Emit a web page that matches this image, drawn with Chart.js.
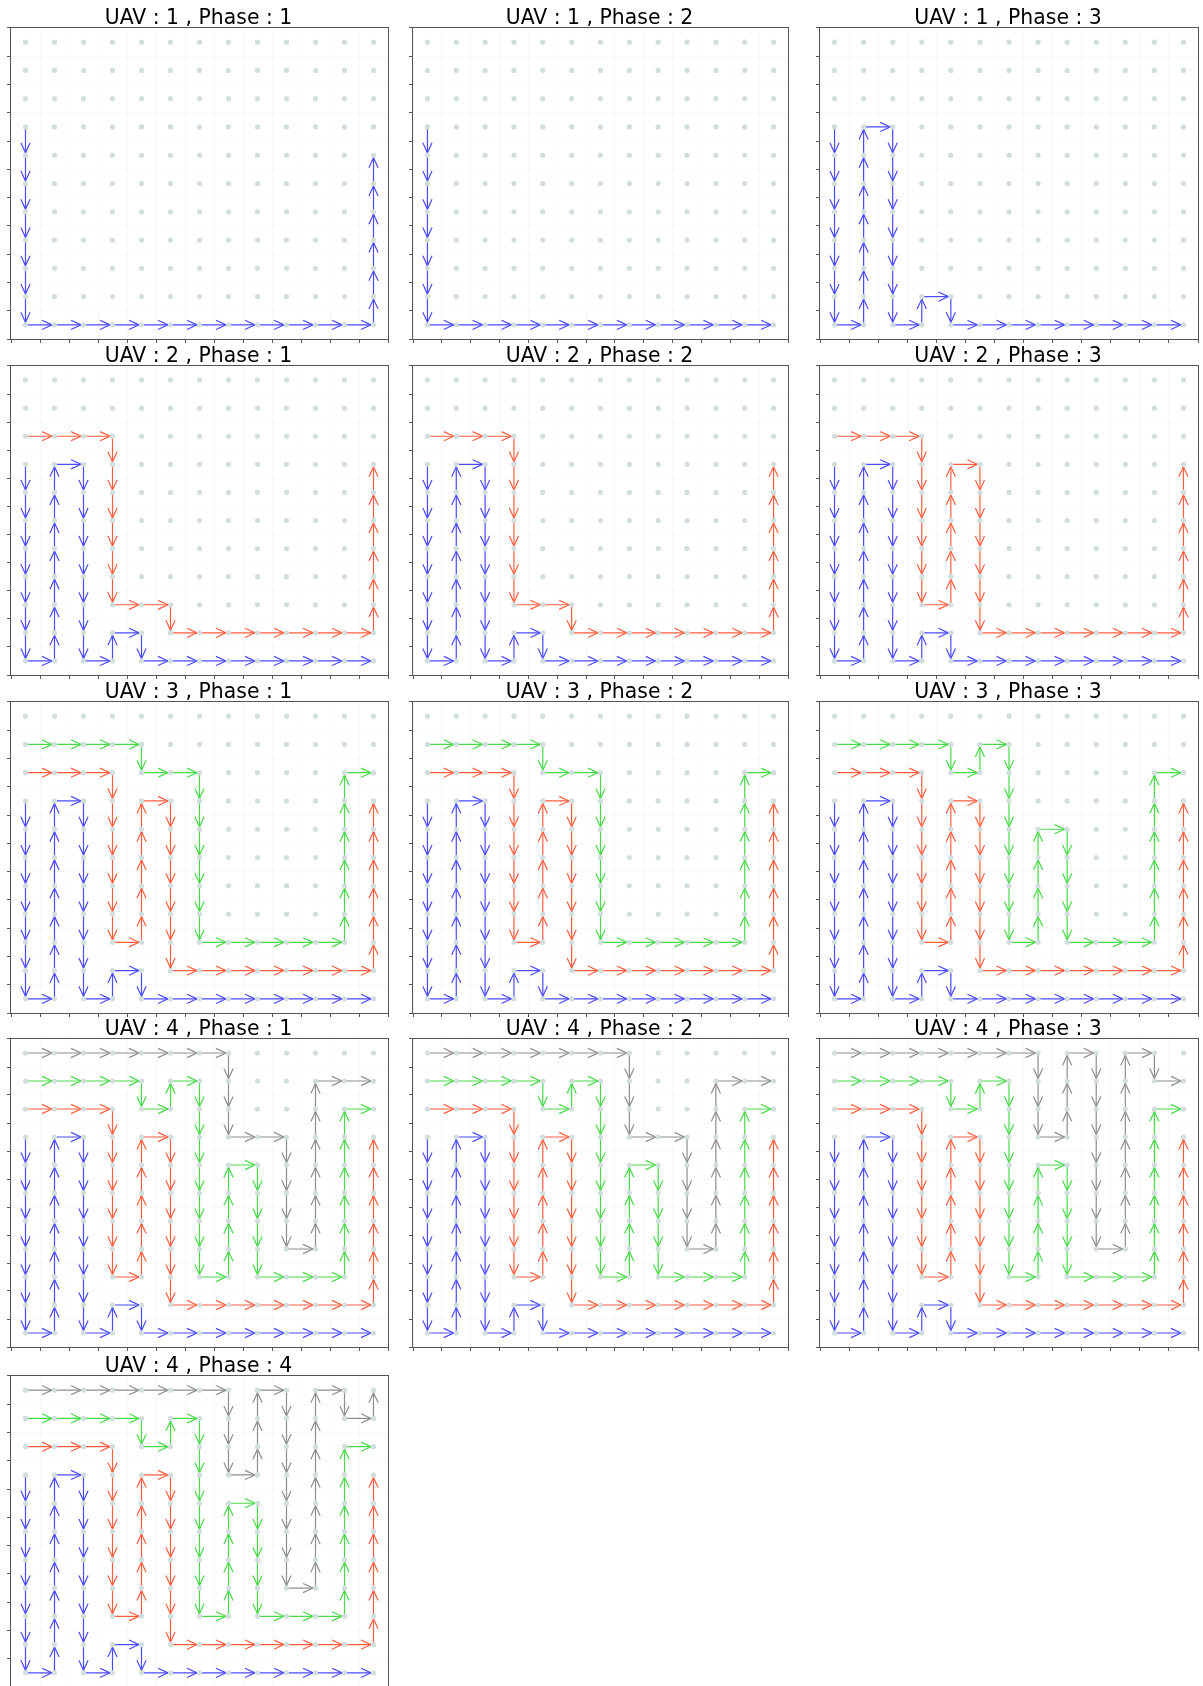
<!DOCTYPE html>
<html>
<head>
<meta charset="utf-8">
<script src="https://cdn.jsdelivr.net/npm/chart.js@4.4.0/dist/chart.umd.min.js"></script>
<style>
  html, body { margin: 0; padding: 0; background: #fff; overflow: hidden; }
  body { width: 1203px; height: 1686px; position: relative; }
  .panel { position: absolute; }
</style>
</head>
<body>
<script>

// grid of cells the UAVs can visit
const columns = [0, 1, 2, 3, 4, 5, 6, 7, 8, 9, 10, 11, 12];
const rows = [0, 1, 2, 3, 4, 5, 6, 7, 8, 9, 10];
const xTicks = [-0.5, 0.5, 1.5, 2.5, 3.5, 4.5, 5.5, 6.5, 7.5, 8.5, 9.5, 10.5, 11.5, 12.5];
const yTicks = [-0.5, 0.5, 1.5, 2.5, 3.5, 4.5, 5.5, 6.5, 7.5, 8.5, 9.5, 10.5];

// paths, one cell per step
const blueP1 = [[0,7],[0,6],[0,5],[0,4],[0,3],[0,2],[0,1],[0,0],[1,0],[2,0],[3,0],[4,0],[5,0],[6,0],[7,0],[8,0],[9,0],[10,0],[11,0],[12,0],[12,1],[12,2],[12,3],[12,4],[12,5],[12,6]];
const blueP2 = [[0,7],[0,6],[0,5],[0,4],[0,3],[0,2],[0,1],[0,0],[1,0],[2,0],[3,0],[4,0],[5,0],[6,0],[7,0],[8,0],[9,0],[10,0],[11,0],[12,0]];
const blueP3 = [[0,7],[0,6],[0,5],[0,4],[0,3],[0,2],[0,1],[0,0],[1,0],[1,1],[1,2],[1,3],[1,4],[1,5],[1,6],[1,7],[2,7],[2,6],[2,5],[2,4],[2,3],[2,2],[2,1],[2,0],[3,0],[3,1],[4,1],[4,0],[5,0],[6,0],[7,0],[8,0],[9,0],[10,0],[11,0],[12,0]];

const redP1 = [[0,8],[1,8],[2,8],[3,8],[3,7],[3,6],[3,5],[3,4],[3,3],[3,2],[4,2],[5,2],[5,1],[6,1],[7,1],[8,1],[9,1],[10,1],[11,1],[12,1],[12,2],[12,3],[12,4],[12,5],[12,6],[12,7]];
const redP3 = [[0,8],[1,8],[2,8],[3,8],[3,7],[3,6],[3,5],[3,4],[3,3],[3,2],[4,2],[4,3],[4,4],[4,5],[4,6],[4,7],[5,7],[5,6],[5,5],[5,4],[5,3],[5,2],[5,1],[6,1],[7,1],[8,1],[9,1],[10,1],[11,1],[12,1],[12,2],[12,3],[12,4],[12,5],[12,6],[12,7]];

const greenP1 = [[0,9],[1,9],[2,9],[3,9],[4,9],[4,8],[5,8],[6,8],[6,7],[6,6],[6,5],[6,4],[6,3],[6,2],[7,2],[8,2],[9,2],[10,2],[11,2],[11,3],[11,4],[11,5],[11,6],[11,7],[11,8],[12,8]];
const greenP3 = [[0,9],[1,9],[2,9],[3,9],[4,9],[4,8],[5,8],[5,9],[6,9],[6,8],[6,7],[6,6],[6,5],[6,4],[6,3],[6,2],[7,2],[7,3],[7,4],[7,5],[7,6],[8,6],[8,5],[8,4],[8,3],[8,2],[9,2],[10,2],[11,2],[11,3],[11,4],[11,5],[11,6],[11,7],[11,8],[12,8]];

const grayP1 = [[0,10],[1,10],[2,10],[3,10],[4,10],[5,10],[6,10],[7,10],[7,9],[7,8],[7,7],[8,7],[9,7],[9,6],[9,5],[9,4],[9,3],[10,3],[10,4],[10,5],[10,6],[10,7],[10,8],[10,9],[11,9],[12,9]];
const grayP3 = [[0,10],[1,10],[2,10],[3,10],[4,10],[5,10],[6,10],[7,10],[7,9],[7,8],[7,7],[8,7],[8,8],[8,9],[8,10],[9,10],[9,9],[9,8],[9,7],[9,6],[9,5],[9,4],[9,3],[10,3],[10,4],[10,5],[10,6],[10,7],[10,8],[10,9],[10,10],[11,10],[11,9],[12,9]];
const grayP4 = [[0,10],[1,10],[2,10],[3,10],[4,10],[5,10],[6,10],[7,10],[7,9],[7,8],[7,7],[8,7],[8,8],[8,9],[8,10],[9,10],[9,9],[9,8],[9,7],[9,6],[9,5],[9,4],[9,3],[10,3],[10,4],[10,5],[10,6],[10,7],[10,8],[10,9],[10,10],[11,10],[11,9],[12,9],[12,10]];

const panelTitles = [
  'UAV : 1 , Phase : 1', 'UAV : 1 , Phase : 2', 'UAV : 1 , Phase : 3',
  'UAV : 2 , Phase : 1', 'UAV : 2 , Phase : 2', 'UAV : 2 , Phase : 3',
  'UAV : 3 , Phase : 1', 'UAV : 3 , Phase : 2', 'UAV : 3 , Phase : 3',
  'UAV : 4 , Phase : 1', 'UAV : 4 , Phase : 2', 'UAV : 4 , Phase : 3',
  'UAV : 4 , Phase : 4'
];

// which paths show up in each panel (blue, red, green, gray)
const panelPaths = [
  [blueP1], [blueP2], [blueP3],
  [blueP3, redP1], [blueP3, redP1], [blueP3, redP3],
  [blueP3, redP3, greenP1], [blueP3, redP3, greenP1], [blueP3, redP3, greenP3],
  [blueP3, redP3, greenP3, grayP1], [blueP3, redP3, greenP3, grayP1], [blueP3, redP3, greenP3, grayP3],
  [blueP3, redP3, greenP3, grayP4]
];

const pathColors = ['#4b4bff', '#ff5e3e', '#48da48', '#8e8e8e'];

const colLeft = [11, 413, 820];
const colWidth = [379, 377, 380];
const rowTop = [28, 366, 702, 1039, 1376];
const rowHeight = [311, 309, 311, 308, 311];

const gridPoints = [];
for (const y of rows) {
  for (const x of columns) gridPoints.push({ x: x, y: y });
}

// chevron at the end of every step, like matplotlib's '->'
const arrowHeads = {
  id: 'arrowHeads',
  afterDatasetDraw(chart, args) {
    const ds = chart.data.datasets[args.index];
    if (!ds.arrows) return;
    const pts = args.meta.data;
    const ctx = chart.ctx;
    ctx.save();
    ctx.strokeStyle = ds.borderColor;
    ctx.lineWidth = ds.borderWidth;
    for (let i = 1; i < pts.length; i++) {
      const a = pts[i - 1], b = pts[i];
      const dx = b.x - a.x, dy = b.y - a.y;
      const len = Math.hypot(dx, dy);
      if (!len) continue;
      const ux = dx / len, uy = dy / len;
      const tx = b.x - ux * 2.5, ty = b.y - uy * 2.5;
      ctx.beginPath();
      ctx.moveTo(tx - ux * 10 - uy * 4.6, ty - uy * 10 + ux * 4.6);
      ctx.lineTo(tx, ty);
      ctx.lineTo(tx - ux * 10 + uy * 4.6, ty - uy * 10 - ux * 4.6);
      ctx.stroke();
    }
    ctx.restore();
  }
};

const frame = {
  id: 'frame',
  afterDraw(chart) {
    const a = chart.chartArea;
    const ctx = chart.ctx;
    ctx.save();
    ctx.strokeStyle = '#555';
    ctx.lineWidth = 1;
    ctx.strokeRect(Math.round(a.left) - 0.5, Math.round(a.top) - 0.5,
                   Math.round(a.right - a.left) + 1, Math.round(a.bottom - a.top) + 1);
    ctx.restore();
  }
};

function createPanel(i) {
  const col = i % 3, row = Math.floor(i / 3);
  const L = colLeft[col], T = rowTop[row], W = colWidth[col], H = rowHeight[row];

  const div = document.createElement('div');
  div.className = 'panel';
  div.style.left = (L - 6) + 'px';
  div.style.top = (T - 22) + 'px';
  const canvas = document.createElement('canvas');
  canvas.width = W + 8;
  canvas.height = H + 28;
  div.appendChild(canvas);
  document.body.appendChild(div);

  let dataSets = [{
    data: gridPoints,
    pointRadius: 2.6,
    pointBackgroundColor: '#d2dede',
    pointBorderWidth: 0,
    showLine: false
  }];

  // earlier index draws last, so push paths in reverse to keep later UAVs on top
  const paths = panelPaths[i];
  for (let p = paths.length - 1; p >= 0; p--) {
    dataSets.push({
      data: paths[p].map(c => ({ x: c[0], y: c[1] })),
      showLine: true,
      borderColor: pathColors[p],
      borderWidth: 1.2,
      pointRadius: 0,
      tension: 0,
      arrows: true
    });
  }

  new Chart(canvas, {
    type: 'scatter',
    data: { datasets: dataSets },
    options: {
      responsive: false,
      animation: false,
      layout: { padding: { top: 0.02, left: 2, right: 2, bottom: 2 } },
      plugins: {
        legend: { display: false },
        tooltip: { enabled: false },
        title: {
          display: true,
          text: panelTitles[i],
          color: '#000',
          padding: { top: 0, bottom: -2.5 },
          font: { family: 'DejaVu Sans', size: 20.4, weight: 'normal' }
        }
      },
      scales: {
        x: {
          type: 'linear',
          min: -0.5,
          max: 12.5,
          afterBuildTicks: axis => { axis.ticks = xTicks.map(v => ({ value: v })); },
          ticks: { display: false },
          grid: { color: 'rgba(0,0,0,0.028)', tickColor: '#555', tickLength: 4 },
          border: { display: false }
        },
        y: {
          type: 'linear',
          min: -0.5,
          max: 10.5,
          afterBuildTicks: axis => { axis.ticks = yTicks.map(v => ({ value: v })); },
          ticks: { display: false },
          grid: { color: 'rgba(0,0,0,0.028)', tickColor: '#555', tickLength: 4 },
          border: { display: false }
        }
      }
    },
    plugins: [arrowHeads, frame]
  });
}

for (let i = 0; i < panelTitles.length; i++) createPanel(i);

</script>
</body>
</html>
